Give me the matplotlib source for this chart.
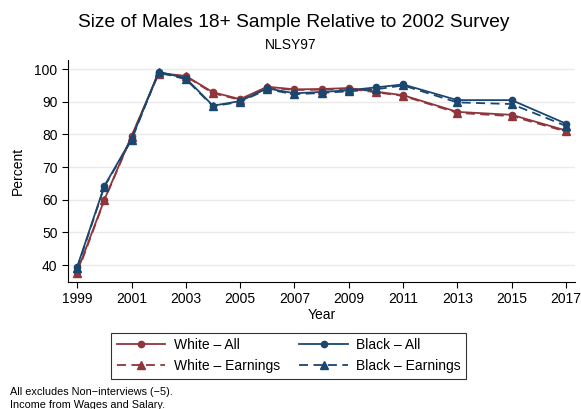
import matplotlib
matplotlib.use("Agg")
import matplotlib.pyplot as plt

plt.rcParams['font.family'] = ['Liberation Sans', 'DejaVu Sans']

years = [1999, 2000, 2001, 2002, 2003, 2004, 2005, 2006, 2007, 2008, 2009, 2010, 2011, 2013, 2015, 2017]
white_all = [38.0, 60.0, 79.5, 98.8, 97.9, 92.9, 90.8, 94.6, 93.8, 93.9, 94.2, 93.1, 92.0, 86.9, 86.0, 81.2]
white_earn = [37.5, 59.8, 79.3, 98.6, 97.8, 92.6, 90.6, 94.4, 93.6, 93.7, 94.0, 92.9, 91.8, 86.6, 85.6, 80.9]
black_all = [39.5, 64.2, 78.6, 99.2, 97.2, 88.8, 90.2, 94.1, 92.6, 93.0, 93.5, 94.4, 95.3, 90.5, 90.5, 83.3]
black_earn = [39.0, 64.0, 78.3, 99.0, 96.9, 88.6, 90.0, 93.8, 92.3, 92.7, 93.2, 93.8, 95.0, 89.8, 89.3, 82.6]

xticks = [1999, 2001, 2003, 2005, 2007, 2009, 2011, 2013, 2015, 2017]
yticks = [40, 50, 60, 70, 80, 90, 100]

maroon = '#90353B'
navy = '#1A476F'

fig = plt.figure(figsize=(5.81, 4.09), dpi=100)
ax = fig.add_axes([0.117, 0.3105, 0.873, 0.5425])

for yv in yticks:
    ax.axhline(yv, color='#EAEAEA', lw=1.0, zorder=0)

h1, = ax.plot(years, white_all, color=maroon, lw=1.3, marker='o', ms=4.5, label='White \u2013 All')
h2, = ax.plot(years, white_earn, color=maroon, lw=1.3, ls=(0, (5, 3)), marker='^', ms=5.5, label='White \u2013 Earnings')
h3, = ax.plot(years, black_all, color=navy, lw=1.3, marker='o', ms=4.5, label='Black \u2013 All')
h4, = ax.plot(years, black_earn, color=navy, lw=1.3, ls=(0, (5, 3)), marker='^', ms=5.5, label='Black \u2013 Earnings')

ax.set_xlim(1998.66, 2017.34)
ax.set_ylim(34.8, 102.75)
ax.set_xticks(xticks)
ax.set_yticks(yticks)
ax.tick_params(labelsize=10, length=4, width=0.8, colors='black')
for s in ['top', 'right']:
    ax.spines[s].set_visible(False)
for s in ['left', 'bottom']:
    ax.spines[s].set_color('black')
    ax.spines[s].set_linewidth(0.8)

ax.set_xlabel('Year', fontsize=10, labelpad=1)
ax.set_ylabel('Percent', fontsize=10, labelpad=7)

fig.text(0.505, 0.946, 'Size of Males 18+ Sample Relative to 2002 Survey', ha='center', va='center', fontsize=13.8)
fig.text(0.5, 0.89, 'NLSY97', ha='center', va='center', fontsize=10)

leg = fig.legend(handles=[h1, h2, h3, h4], ncol=2, loc='center', bbox_to_anchor=(0.497, 0.13),
                 fontsize=10, frameon=True, fancybox=False, edgecolor='black',
                 handlelength=3.5, handletextpad=0.6, columnspacing=1.4,
                 borderpad=0.4, labelspacing=0.5)
leg.get_frame().set_linewidth(0.8)

fig.text(0.017, 0.041, 'All excludes Non\u2212interviews (\u22125).', fontsize=7.8, ha='left', va='center')
fig.text(0.017, 0.011, 'Income from Wages and Salary.', fontsize=7.8, ha='left', va='center')

fig.savefig('out.png', dpi=100, facecolor='white')
